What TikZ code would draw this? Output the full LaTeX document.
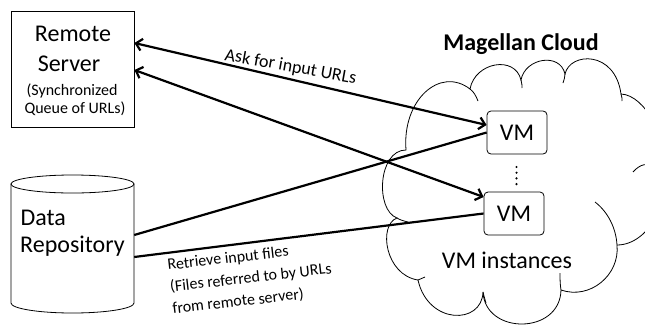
\documentclass[tikz,border=0pt]{standalone}
\usepackage{fontspec}
\setmainfont{Carlito}
\usetikzlibrary{arrows.meta,calc}
\tikzset{
  thinline/.style={draw=black, line width=0.8pt},
  boxnode/.style={thinline, fill=white, inner sep=0pt},
  vmbox/.style={thinline, fill=white, rounded corners=4pt, minimum width=60pt, minimum height=43pt, inner sep=0pt, font=\fontsize{24}{29}\selectfont},
  bigtxt/.style={font=\fontsize{24}{29}\selectfont, inner sep=0pt},
  smalltxt/.style={font=\fontsize{16}{19}\selectfont, inner sep=0pt},
  midtxt/.style={font=\fontsize{18}{22}\selectfont, inner sep=0pt},
  conn/.style={line width=2.2pt, draw=black},
  twotip/.style={{Straight Barb[length=6pt,width=12pt]}-{Straight Barb[length=6pt,width=12pt]}},
}
\begin{document}
\begin{tikzpicture}[x=1pt,y=1pt]
\useasboundingbox (0,0) rectangle (645,-327);
\fill[white] (0,0) rectangle (645,-327);

% cloud
\draw[thinline, fill=white]
  (397,-218)
  .. controls (375,-210) and (378,-150) .. (406,-150)
  .. controls (402,-100) and (440,-66) .. (470,-89)
  .. controls (475,-62) and (515,-55) .. (521,-80)
  .. controls (525,-58) and (560,-52) .. (565,-74)
  .. controls (570,-52) and (615,-50) .. (621,-94)
  .. controls (645,-95) and (670,-140) .. (655,-168)
  .. controls (675,-195) and (650,-245) .. (617,-245)
  .. controls (620,-275) and (590,-300) .. (561,-290)
  .. controls (560,-335) and (485,-335) .. (483,-292)
  .. controls (482,-325) and (428,-325) .. (418,-280)
  .. controls (385,-275) and (378,-225) .. (397,-218) -- cycle;
% creases
\draw[thinline] (470,-89) .. controls (474,-92) and (476,-96) .. (478,-101);
\draw[thinline] (521,-80) .. controls (522,-83) and (522,-86) .. (522,-88);
\draw[thinline] (565,-74) .. controls (565,-77) and (564,-80) .. (563,-83);
\draw[thinline] (621,-94) .. controls (622,-96) and (622,-99) .. (622,-101);
\draw[thinline] (655,-168) .. controls (648,-162) and (640,-164) .. (633,-172);
\draw[thinline] (617,-245) .. controls (616,-228) and (608,-212) .. (595,-202);
\draw[thinline] (561,-290) .. controls (560,-284) and (560,-278) .. (560,-273);
\draw[thinline] (483,-292) .. controls (484,-296) and (485,-300) .. (486,-303);
\draw[thinline] (418,-280) .. controls (420,-279) and (423,-278) .. (425,-277);
\draw[thinline] (397,-218) .. controls (400,-220) and (404,-221) .. (408,-222);

\node[font=\bfseries\fontsize{24}{29}\selectfont, inner sep=0pt, anchor=base] (title) at (521,-50) {Magellan Cloud};
\node[bigtxt, anchor=base] (inst) at (507,-268) {VM instances};

% VM boxes
\node[vmbox] (vm1) at (517,-132.5) {VM};
\node[vmbox] (vm2) at (514,-213.5) {VM};
\foreach \yy [count=\i] in {167,172.7,178.4,184.1}
  \fill (516.5,-\yy) circle[radius=1.2pt];

% remote server
\node[boxnode, minimum width=123pt, minimum height=116pt] (rs) at (72.5,-69) {};
\node[bigtxt, anchor=base] (rs1) at (73,-41.7) {Remote};
\node[bigtxt, anchor=base] (rs2) at (69,-71.7) {Server};
\node[smalltxt, anchor=base] (rs3) at (72,-95) {(Synchronized};
\node[smalltxt, anchor=base] (rs4) at (75,-113) {Queue of URLs)};

% data repository
\node[inner sep=0pt, minimum width=123pt, minimum height=138pt] (repo) at (72.5,-244) {};
\draw[thinline, fill=white] (11,-184) -- (11,-303) arc[start angle=180, end angle=360, x radius=61.5, y radius=10] -- (134,-184) -- cycle;
\draw[thinline, fill=white] (72.5,-184) ellipse[x radius=61.5, y radius=9];
\node[bigtxt, anchor=base west] (d1) at (20.5,-225) {Data};
\node[bigtxt, anchor=base west] (d2) at (20,-252) {Repository};

% connectors
\draw[conn, twotip] ([yshift=26pt]rs.east) -- ([yshift=7.5pt]vm1.west);
\draw[conn, twotip] ([yshift=-1pt]rs.east) -- ([yshift=16.5pt]vm2.west);
\draw[conn] ([yshift=9pt]repo.east) -- (vm1.west);
\draw[conn] ([yshift=-13pt]repo.east) -- (vm2.west);

% labels
\node[midtxt, anchor=base west, rotate=-10.3] (ask) at (224,-60) {Ask for input URLs};
\node[smalltxt, anchor=base west, rotate=6.5] (ret1) at (168,-270) {Retrieve input files};
\node[smalltxt, anchor=base west, rotate=6.5] (ret2) at (170.5,-291.9) {(Files referred to by URLs};
\node[smalltxt, anchor=base west, rotate=6.5] (ret3) at (173,-313.8) {from remote server)};
\end{tikzpicture}
\end{document}
